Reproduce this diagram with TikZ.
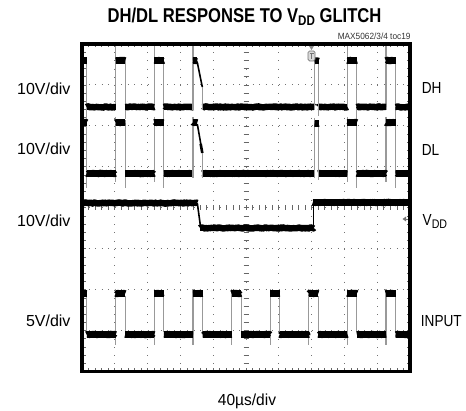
\documentclass[tikz,border=0pt]{standalone}
\usepackage{fontspec}
\setmainfont{Liberation Sans}
\usepackage{graphicx}
\usetikzlibrary{decorations.pathmorphing}

\tikzset{
  grid dots h/.style={black!55, line width=1pt, dash pattern=on 1pt off 5.56pt},
  grid dots v/.style={black!55, line width=1pt, dash pattern=on 1pt off 7.19pt},
  tick mark/.style={black!60, line width=0.7pt},
  trace bar/.style={black, line width=6.4pt,
    postaction={draw, decorate, line join=round,
      decoration={random steps, segment length=1pt, amplitude=0.6pt}}},
  trace slope/.style={black, line width=1.6pt},
  trace edge/.style={black!40, line width=1.1pt},
  scope frame/.style={black, line width=3.5pt},
  side label/.style={inner sep=0pt, font=\fontsize{16}{16}\selectfont},
}

\begin{document}
\begin{tikzpicture}[x=1pt,y=1pt,yscale=-1]
\pgfmathsetseed{7}
\useasboundingbox (0,0) rectangle (466,411);

%Grid
\foreach \i in {1,...,9}
  \draw[grid dots v] (82+32.8*\i,44) -- (82+32.8*\i,371.5);
\foreach \j in {1,...,7}
  \draw[grid dots h] (82,44+40.94*\j) -- (410,44+40.94*\j);
%Ticks on the centre lines and the frame
\foreach \m in {1,...,49} {
  \draw[tick mark] (82+6.56*\m,205.25) -- (82+6.56*\m,210.25);
  \draw[tick mark] (82+6.56*\m,44) -- (82+6.56*\m,47.5);
  \draw[tick mark] (82+6.56*\m,371.5) -- (82+6.56*\m,368);
}
\foreach \m in {1,...,39} {
  \draw[tick mark] (243.5,44+8.19*\m) -- (248.5,44+8.19*\m);
  \draw[tick mark] (82,44+8.19*\m) -- (85.5,44+8.19*\m);
  \draw[tick mark] (410,44+8.19*\m) -- (406.5,44+8.19*\m);
}

\begin{scope}
\clip (83.75,45.75) rectangle (408.25,369.75);

%DH trace
\foreach \s in {77.1,115.7,154.3,347.4,386} {
  \draw[trace edge] (\s,46) -- (\s,110);
  \draw[trace edge] (\s+9.5,58) -- (\s+9.5,119);
  \draw[trace bar] (\s,60.5) -- (\s+9.5,60.5);
}
\foreach \a/\b in {86.6/115.7,125.2/154.3,163.8/193,202.5/314.5,318.3/347.4,356.9/386,395.5/410}
  \draw[trace bar] (\a,107) -- (\b,107);
%DH glitch
\draw[trace edge] (193,46) -- (193,110);
\draw[trace bar] (193,60.5) -- (197.3,60.5);
\draw[trace slope] (197.3,62.5) -- (202.3,87);
\draw[trace edge] (202.3,87) -- (202.3,110);
%DH partial pulse
\draw[trace edge] (314.5,56) -- (314.5,110);
\draw[trace edge] (318.5,60) -- (318.5,116);
\draw[trace bar] (314.5,61) -- (318.5,61);

%DL trace
\foreach \s in {77.1,115.7,154.3,347.4,386} {
  \draw[trace edge] (\s,117) -- (\s,182);
  \draw[trace edge] (\s+9.5,120) -- (\s+9.5,188);
  \draw[trace bar] (\s,122.5) -- (\s+9.5,122.5);
}
\foreach \a/\b in {86.6/115.7,125.2/154.3,163.8/193,202.5/314.5,318.3/347.4,356.9/386,395.5/410}
  \draw[trace bar] (\a,173.5) -- (\b,173.5);
%DL glitch
\draw[trace edge] (193,117) -- (193,178);
\draw[trace bar] (193,122.5) -- (197.3,122.5);
\draw[trace slope] (197.3,124) -- (201,145);
\draw[black, line width=2.6pt] (200.7,144) -- (202.3,153);
\draw[trace edge] (202.3,153) -- (202.3,178);
%DL partial pulse
\draw[trace edge] (314.5,118) -- (314.5,178);
\draw[trace edge] (318.5,122) -- (318.5,180);
\draw[trace bar] (314.5,123.5) -- (318.5,123.5);

%VDD trace
\draw[trace bar] (82,203) -- (197.3,203);
\draw[trace slope] (197.3,203) -- (200.7,228);
\draw[trace bar] (200.2,228) -- (313.8,228);
\draw[trace slope] (313.3,228) -- (313.3,202.5);
\draw[trace bar] (312.8,202.5) -- (410,202.5);

%INPUT trace
\foreach \s in {77.1,115.7,154.3,193,231.6,270.2,308.8,347.4,386} {
  \draw[trace edge] (\s,289) -- (\s,345);
  \draw[trace edge] (\s+9.5,296) -- (\s+9.5,332);
  \draw[trace bar] (\s,293.5) -- (\s+9.5,293.5);
}
\foreach \a/\b in {86.6/115.7,125.2/154.3,163.8/193,202.5/231.6,241.1/270.2,279.7/308.8,318.3/347.4,356.9/386,395.5/410}
  \draw[trace bar] (\a,334.5) -- (\b,334.5);
\end{scope}

%Trigger marker
\fill[black!45] (309,46) -- (314,46) -- (311.5,50) -- cycle;
\draw[black!55, fill=black!15, rounded corners=1.5pt, line width=0.7pt] (308,51) rectangle (315,61);
\draw[black!55, line width=0.8pt] (309.5,53.5) -- (313.5,53.5) (311.5,53.5) -- (311.5,59);
%VDD marker
\fill[black!55] (402.5,219) -- (406,216.5) -- (406,221.5) -- cycle;
\draw[black!55, line width=0.8pt] (405,219) -- (407.5,219);

%Frame
\draw[scope frame] (82,44) rectangle (410,371.5);

% Text Node
\node (title) [inner sep=0pt, anchor=base] at (244.5,22.7) {\scalebox{0.83}[1]{\fontsize{20}{20}\selectfont\bfseries DH/DL RESPONSE TO V\raisebox{-2.5pt}{\fontsize{14}{14}\selectfont DD} GLITCH}};
% Text Node
\node (partno) [inner sep=0pt, anchor=base east, text=black!80] at (410.7,39.3) {\scalebox{0.92}[1]{\fontsize{9}{9}\selectfont MAX5062/3/4 toc19}};
% Text Node
\node (dhdiv) [side label, anchor=base east] at (70.7,95) {10V/div};
\node (dldiv) [side label, anchor=base east] at (70.7,155) {10V/div};
\node (vdddiv) [side label, anchor=base east] at (70.7,227) {10V/div};
\node (indiv) [side label, anchor=base east] at (70.7,327) {5V/div};
% Text Node
\node (dhlabel) [side label, anchor=base west] at (421.7,94) {\scalebox{0.85}[1]{DH}};
\node (dllabel) [side label, anchor=base west] at (421.7,156) {\scalebox{0.85}[1]{DL}};
\node (vddlabel) [side label, anchor=base west] at (422.5,226) {\scalebox{0.85}[1]{V\raisebox{-3pt}{\fontsize{12.5}{12.5}\selectfont DD}}};
\node (inlabel) [side label, anchor=base west] at (420.7,327) {\scalebox{0.85}[1]{INPUT}};
% Text Node
\node (timediv) [side label, anchor=base] at (247,406) {\scalebox{0.97}[1]{40µs/div}};

\end{tikzpicture}
\end{document}
